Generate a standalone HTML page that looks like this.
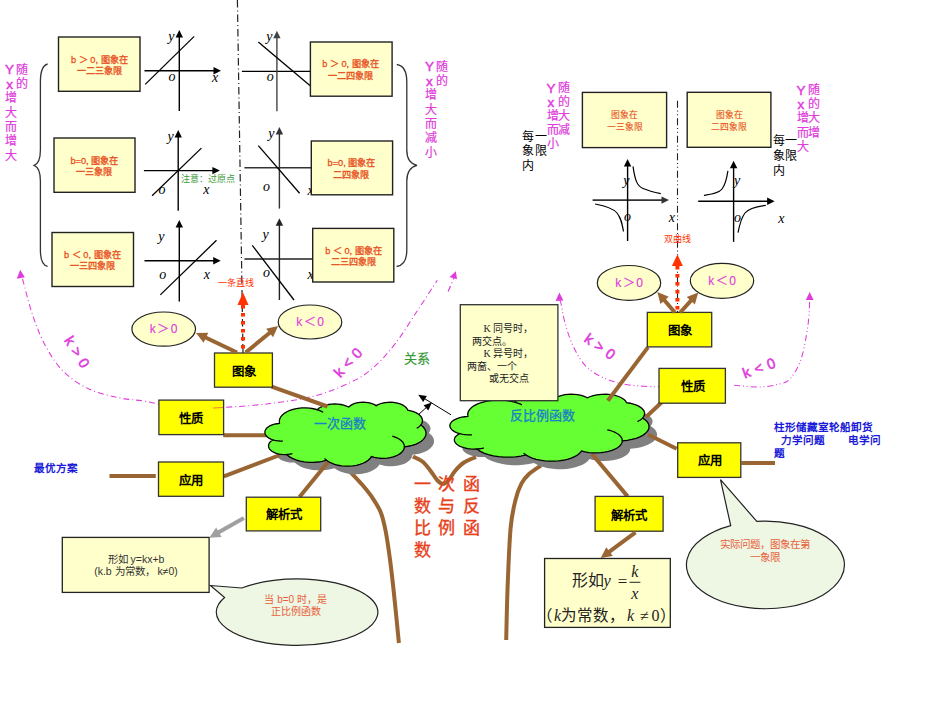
<!DOCTYPE html>
<html lang="zh-CN"><head><meta charset="utf-8"><style>
html,body{margin:0;padding:0;background:#fff;width:950px;height:713px;overflow:hidden}
svg{display:block}
</style></head><body>
<svg width="950" height="713" viewBox="0 0 950 713">
<rect width="950" height="713" fill="#fff"/>
<line x1="237.4" y1="0" x2="243" y2="353" stroke="#222" stroke-width="1.2" stroke-dasharray="7.5 3 1 3" stroke-linecap="butt"/>
<line x1="677.5" y1="100.8" x2="677.5" y2="312.5" stroke="#222" stroke-width="1.1" stroke-dasharray="7 2.7 1 2.7 1 3.1" stroke-linecap="butt"/>
<line x1="144.5" y1="70.8" x2="215" y2="70.8" stroke="#000" stroke-width="1.4" stroke-linecap="butt"/>
<polygon points="221.00,70.80 213.50,67.10 213.50,74.50" fill="#000" stroke="none" stroke-width="1"/>
<line x1="179.3" y1="111" x2="179.3" y2="35.9" stroke="#000" stroke-width="1.4" stroke-linecap="butt"/>
<polygon points="179.30,29.90 175.60,37.40 183.00,37.40" fill="#000" stroke="none" stroke-width="1"/>
<line x1="145.2" y1="84.4" x2="194.2" y2="36.4" stroke="#000" stroke-width="1.3" stroke-linecap="butt"/>
<text x="168.3" y="40.5" font-family='"Liberation Serif", serif' font-size="14" fill="#000" font-weight="normal" text-anchor="start" dominant-baseline="auto" font-style="italic">y</text>
<text x="168.5" y="80.5" font-family='"Liberation Serif", serif' font-size="14" fill="#000" font-weight="normal" text-anchor="start" dominant-baseline="auto" font-style="italic">o</text>
<text x="212" y="81.5" font-family='"Liberation Serif", serif' font-size="14" fill="#000" font-weight="normal" text-anchor="start" dominant-baseline="auto" font-style="italic">x</text>
<line x1="143.9" y1="170.6" x2="213.9" y2="170.6" stroke="#000" stroke-width="1.4" stroke-linecap="butt"/>
<polygon points="219.90,170.60 212.40,166.90 212.40,174.30" fill="#000" stroke="none" stroke-width="1"/>
<line x1="178.2" y1="210.7" x2="178.2" y2="135.9" stroke="#000" stroke-width="1.4" stroke-linecap="butt"/>
<polygon points="178.20,129.90 174.50,137.40 181.90,137.40" fill="#000" stroke="none" stroke-width="1"/>
<line x1="152.1" y1="195.8" x2="201.4" y2="148.1" stroke="#000" stroke-width="1.3" stroke-linecap="butt"/>
<text x="167.60000000000002" y="140.5" font-family='"Liberation Serif", serif' font-size="14" fill="#000" font-weight="normal" text-anchor="start" dominant-baseline="auto" font-style="italic">y</text>
<text x="158.5" y="194" font-family='"Liberation Serif", serif' font-size="14" fill="#000" font-weight="normal" text-anchor="start" dominant-baseline="auto" font-style="italic">o</text>
<text x="203.2" y="194.2" font-family='"Liberation Serif", serif' font-size="14" fill="#000" font-weight="normal" text-anchor="start" dominant-baseline="auto" font-style="italic">x</text>
<line x1="144.5" y1="260.8" x2="214.7" y2="260.8" stroke="#000" stroke-width="1.4" stroke-linecap="butt"/>
<polygon points="220.70,260.80 213.20,257.10 213.20,264.50" fill="#000" stroke="none" stroke-width="1"/>
<line x1="179.3" y1="301.6" x2="179.3" y2="226.1" stroke="#000" stroke-width="1.4" stroke-linecap="butt"/>
<polygon points="179.30,220.10 175.60,227.60 183.00,227.60" fill="#000" stroke="none" stroke-width="1"/>
<line x1="160.3" y1="294.9" x2="216.5" y2="240.3" stroke="#000" stroke-width="1.3" stroke-linecap="butt"/>
<text x="158.3" y="240.5" font-family='"Liberation Serif", serif' font-size="14" fill="#000" font-weight="normal" text-anchor="start" dominant-baseline="auto" font-style="italic">y</text>
<text x="159.2" y="278.6" font-family='"Liberation Serif", serif' font-size="14" fill="#000" font-weight="normal" text-anchor="start" dominant-baseline="auto" font-style="italic">o</text>
<text x="203.8" y="279.2" font-family='"Liberation Serif", serif' font-size="14" fill="#000" font-weight="normal" text-anchor="start" dominant-baseline="auto" font-style="italic">x</text>
<line x1="241.9" y1="71.4" x2="324" y2="71.4" stroke="#000" stroke-width="1.4" stroke-linecap="butt"/>
<polygon points="330.00,71.40 322.50,67.70 322.50,75.10" fill="#000" stroke="none" stroke-width="1"/>
<line x1="276.9" y1="111.2" x2="276.9" y2="36.7" stroke="#444" stroke-width="1.4" stroke-linecap="butt"/>
<polygon points="276.90,30.70 273.20,38.20 280.60,38.20" fill="#444" stroke="none" stroke-width="1"/>
<line x1="258.3" y1="42.1" x2="320" y2="94" stroke="#000" stroke-width="1.3" stroke-linecap="butt"/>
<text x="266.3" y="40.5" font-family='"Liberation Serif", serif' font-size="14" fill="#000" font-weight="normal" text-anchor="start" dominant-baseline="auto" font-style="italic">y</text>
<text x="266.7" y="81.1" font-family='"Liberation Serif", serif' font-size="14" fill="#000" font-weight="normal" text-anchor="start" dominant-baseline="auto" font-style="italic">o</text>
<line x1="244.4" y1="167.8" x2="324" y2="167.8" stroke="#333" stroke-width="1.4" stroke-linecap="butt"/>
<polygon points="330.00,167.80 322.50,164.10 322.50,171.50" fill="#333" stroke="none" stroke-width="1"/>
<line x1="279.4" y1="208.6" x2="279.4" y2="133" stroke="#333" stroke-width="1.4" stroke-linecap="butt"/>
<polygon points="279.40,127.00 275.70,134.50 283.10,134.50" fill="#333" stroke="none" stroke-width="1"/>
<line x1="258.3" y1="145.6" x2="299.6" y2="193.3" stroke="#000" stroke-width="1.3" stroke-linecap="butt"/>
<text x="268.2" y="137.5" font-family='"Liberation Serif", serif' font-size="14" fill="#000" font-weight="normal" text-anchor="start" dominant-baseline="auto" font-style="italic">y</text>
<text x="262.9" y="190.6" font-family='"Liberation Serif", serif' font-size="14" fill="#000" font-weight="normal" text-anchor="start" dominant-baseline="auto" font-style="italic">o</text>
<text x="307.5" y="195" font-family='"Liberation Serif", serif' font-size="14" fill="#000" font-weight="normal" text-anchor="start" dominant-baseline="auto" font-style="italic">x</text>
<line x1="244.4" y1="259" x2="324" y2="259" stroke="#222" stroke-width="1.4" stroke-linecap="butt"/>
<polygon points="330.00,259.00 322.50,255.30 322.50,262.70" fill="#222" stroke="none" stroke-width="1"/>
<line x1="279.4" y1="300" x2="279.4" y2="224.2" stroke="#222" stroke-width="1.4" stroke-linecap="butt"/>
<polygon points="279.40,218.20 275.70,225.70 283.10,225.70" fill="#222" stroke="none" stroke-width="1"/>
<line x1="252.3" y1="245.4" x2="294" y2="300" stroke="#000" stroke-width="1.3" stroke-linecap="butt"/>
<text x="262.6" y="238.8" font-family='"Liberation Serif", serif' font-size="14" fill="#000" font-weight="normal" text-anchor="start" dominant-baseline="auto" font-style="italic">y</text>
<text x="262.9" y="276.8" font-family='"Liberation Serif", serif' font-size="14" fill="#000" font-weight="normal" text-anchor="start" dominant-baseline="auto" font-style="italic">o</text>
<text x="307.5" y="279" font-family='"Liberation Serif", serif' font-size="14" fill="#000" font-weight="normal" text-anchor="start" dominant-baseline="auto" font-style="italic">x</text>
<text x="180.5" y="179" font-family='"Liberation Sans", sans-serif' font-size="9" fill="#3A9A3A" font-weight="500" text-anchor="start" dominant-baseline="central" font-style="normal">注意：过原点</text>
<rect x="58.5" y="37" width="81.5" height="54.3" fill="#FFFFCC" stroke="#222" stroke-width="1.4"/>
<text x="99.3" y="63" font-family='"Liberation Sans", sans-serif' font-size="9.2" fill="#E8501E" font-weight="500" text-anchor="middle" dominant-baseline="auto" font-style="normal" stroke="#E8501E" stroke-width="0.3">b ＞ 0, 图象在</text>
<text x="99.3" y="73.9" font-family='"Liberation Sans", sans-serif' font-size="9.2" fill="#E8501E" font-weight="500" text-anchor="middle" dominant-baseline="auto" font-style="normal" stroke="#E8501E" stroke-width="0.3">一二三象限</text>
<rect x="54" y="138" width="81" height="54.3" fill="#FFFFCC" stroke="#222" stroke-width="1.4"/>
<text x="94.3" y="163.7" font-family='"Liberation Sans", sans-serif' font-size="9.2" fill="#E8501E" font-weight="500" text-anchor="middle" dominant-baseline="auto" font-style="normal" stroke="#E8501E" stroke-width="0.3">b=0, 图象在</text>
<text x="94.3" y="174.6" font-family='"Liberation Sans", sans-serif' font-size="9.2" fill="#E8501E" font-weight="500" text-anchor="middle" dominant-baseline="auto" font-style="normal" stroke="#E8501E" stroke-width="0.3">一三象限</text>
<rect x="52" y="232.5" width="81.5" height="54" fill="#FFFFCC" stroke="#222" stroke-width="1.4"/>
<text x="92.3" y="257.9" font-family='"Liberation Sans", sans-serif' font-size="9.2" fill="#E8501E" font-weight="500" text-anchor="middle" dominant-baseline="auto" font-style="normal" stroke="#E8501E" stroke-width="0.3">b ＜ 0, 图象在</text>
<text x="92.3" y="269.3" font-family='"Liberation Sans", sans-serif' font-size="9.2" fill="#E8501E" font-weight="500" text-anchor="middle" dominant-baseline="auto" font-style="normal" stroke="#E8501E" stroke-width="0.3">一三四象限</text>
<rect x="310.4" y="42" width="81.7" height="54.2" fill="#FFFFCC" stroke="#222" stroke-width="1.4"/>
<text x="350.5" y="67.4" font-family='"Liberation Sans", sans-serif' font-size="9.2" fill="#E8501E" font-weight="500" text-anchor="middle" dominant-baseline="auto" font-style="normal" stroke="#E8501E" stroke-width="0.3">b ＞ 0, 图象在</text>
<text x="350.5" y="78.8" font-family='"Liberation Sans", sans-serif' font-size="9.2" fill="#E8501E" font-weight="500" text-anchor="middle" dominant-baseline="auto" font-style="normal" stroke="#E8501E" stroke-width="0.3">一二四象限</text>
<rect x="311.3" y="141" width="81.3" height="53.8" fill="#FFFFCC" stroke="#222" stroke-width="1.4"/>
<text x="351.4" y="166.2" font-family='"Liberation Sans", sans-serif' font-size="9.2" fill="#E8501E" font-weight="500" text-anchor="middle" dominant-baseline="auto" font-style="normal" stroke="#E8501E" stroke-width="0.3">b=0, 图象在</text>
<text x="351.4" y="177.5" font-family='"Liberation Sans", sans-serif' font-size="9.2" fill="#E8501E" font-weight="500" text-anchor="middle" dominant-baseline="auto" font-style="normal" stroke="#E8501E" stroke-width="0.3">二四象限</text>
<rect x="312.7" y="228.4" width="81.1" height="53.6" fill="#FFFFCC" stroke="#222" stroke-width="1.4"/>
<text x="353.4" y="253.6" font-family='"Liberation Sans", sans-serif' font-size="9.2" fill="#E8501E" font-weight="500" text-anchor="middle" dominant-baseline="auto" font-style="normal" stroke="#E8501E" stroke-width="0.3">b ＜ 0, 图象在</text>
<text x="353.4" y="264.9" font-family='"Liberation Sans", sans-serif' font-size="9.2" fill="#E8501E" font-weight="500" text-anchor="middle" dominant-baseline="auto" font-style="normal" stroke="#E8501E" stroke-width="0.3">二三四象限</text>
<rect x="582.4" y="92.4" width="84.2" height="55.2" fill="#FFFFCC" stroke="#222" stroke-width="1.4"/>
<text x="624.9" y="118.3" font-family='"Liberation Sans", sans-serif' font-size="8.8" fill="#E8501E" font-weight="500" text-anchor="middle" dominant-baseline="auto" font-style="normal" stroke="#E8501E" stroke-width="0.1">图象在</text>
<text x="624.9" y="129.7" font-family='"Liberation Sans", sans-serif' font-size="8.8" fill="#E8501E" font-weight="500" text-anchor="middle" dominant-baseline="auto" font-style="normal" stroke="#E8501E" stroke-width="0.1">一三象限</text>
<rect x="687.2" y="92.3" width="83.7" height="55" fill="#FFFFCC" stroke="#222" stroke-width="1.4"/>
<text x="729" y="118.3" font-family='"Liberation Sans", sans-serif' font-size="8.8" fill="#E8501E" font-weight="500" text-anchor="middle" dominant-baseline="auto" font-style="normal" stroke="#E8501E" stroke-width="0.1">图象在</text>
<text x="729" y="129.7" font-family='"Liberation Sans", sans-serif' font-size="8.8" fill="#E8501E" font-weight="500" text-anchor="middle" dominant-baseline="auto" font-style="normal" stroke="#E8501E" stroke-width="0.1">二四象限</text>
<path d="M47.6 64 Q40.4 66 40.4 82 L40.4 150 Q40.4 163 34.2 165.4 Q40.4 168 40.4 181 L40.4 250 Q40.4 265 47.6 266.3" fill="none" stroke="#333" stroke-width="1.3" />
<path d="M396.8 64.5 Q406.8 66 406.8 82 L406.8 150 Q406.8 163 417 165.4 Q406.8 168 406.8 181 L406.8 250 Q406.8 265 396.6 266.5" fill="none" stroke="#333" stroke-width="1.3" />
<text x="9.6" y="69.89999999999999" font-family='"Liberation Sans", sans-serif' font-size="13.5" fill="#E03CDC" font-weight="normal" text-anchor="middle" dominant-baseline="central" font-style="normal" stroke="#E03CDC" stroke-width="0.45">Y</text>
<text x="21.8" y="69.6" font-family='"Liberation Sans", sans-serif' font-size="12" fill="#E03CDC" font-weight="500" text-anchor="middle" dominant-baseline="central" font-style="normal" stroke="#E03CDC" stroke-width="0.2">随</text>
<text x="9.6" y="84.24999999999999" font-family='"Liberation Sans", sans-serif' font-size="13.5" fill="#E03CDC" font-weight="normal" text-anchor="middle" dominant-baseline="central" font-style="normal" stroke="#E03CDC" stroke-width="0.45">x</text>
<text x="21.8" y="83.94999999999999" font-family='"Liberation Sans", sans-serif' font-size="12" fill="#E03CDC" font-weight="500" text-anchor="middle" dominant-baseline="central" font-style="normal" stroke="#E03CDC" stroke-width="0.2">的</text>
<text x="11.2" y="98.3" font-family='"Liberation Sans", sans-serif' font-size="12" fill="#E03CDC" font-weight="500" text-anchor="middle" dominant-baseline="central" font-style="normal" stroke="#E03CDC" stroke-width="0.2">增</text>
<text x="11.2" y="112.64999999999999" font-family='"Liberation Sans", sans-serif' font-size="12" fill="#E03CDC" font-weight="500" text-anchor="middle" dominant-baseline="central" font-style="normal" stroke="#E03CDC" stroke-width="0.2">大</text>
<text x="11.2" y="127.0" font-family='"Liberation Sans", sans-serif' font-size="12" fill="#E03CDC" font-weight="500" text-anchor="middle" dominant-baseline="central" font-style="normal" stroke="#E03CDC" stroke-width="0.2">而</text>
<text x="11.2" y="141.35" font-family='"Liberation Sans", sans-serif' font-size="12" fill="#E03CDC" font-weight="500" text-anchor="middle" dominant-baseline="central" font-style="normal" stroke="#E03CDC" stroke-width="0.2">增</text>
<text x="11.2" y="155.7" font-family='"Liberation Sans", sans-serif' font-size="12" fill="#E03CDC" font-weight="500" text-anchor="middle" dominant-baseline="central" font-style="normal" stroke="#E03CDC" stroke-width="0.2">大</text>
<text x="429.4" y="66.8" font-family='"Liberation Sans", sans-serif' font-size="13.5" fill="#E03CDC" font-weight="normal" text-anchor="middle" dominant-baseline="central" font-style="normal" stroke="#E03CDC" stroke-width="0.45">Y</text>
<text x="442" y="66.5" font-family='"Liberation Sans", sans-serif' font-size="12" fill="#E03CDC" font-weight="500" text-anchor="middle" dominant-baseline="central" font-style="normal" stroke="#E03CDC" stroke-width="0.2">随</text>
<text x="429.4" y="81.14999999999999" font-family='"Liberation Sans", sans-serif' font-size="13.5" fill="#E03CDC" font-weight="normal" text-anchor="middle" dominant-baseline="central" font-style="normal" stroke="#E03CDC" stroke-width="0.45">x</text>
<text x="442" y="80.85" font-family='"Liberation Sans", sans-serif' font-size="12" fill="#E03CDC" font-weight="500" text-anchor="middle" dominant-baseline="central" font-style="normal" stroke="#E03CDC" stroke-width="0.2">的</text>
<text x="431" y="95.2" font-family='"Liberation Sans", sans-serif' font-size="12" fill="#E03CDC" font-weight="500" text-anchor="middle" dominant-baseline="central" font-style="normal" stroke="#E03CDC" stroke-width="0.2">增</text>
<text x="431" y="109.55" font-family='"Liberation Sans", sans-serif' font-size="12" fill="#E03CDC" font-weight="500" text-anchor="middle" dominant-baseline="central" font-style="normal" stroke="#E03CDC" stroke-width="0.2">大</text>
<text x="431" y="123.9" font-family='"Liberation Sans", sans-serif' font-size="12" fill="#E03CDC" font-weight="500" text-anchor="middle" dominant-baseline="central" font-style="normal" stroke="#E03CDC" stroke-width="0.2">而</text>
<text x="431" y="138.25" font-family='"Liberation Sans", sans-serif' font-size="12" fill="#E03CDC" font-weight="500" text-anchor="middle" dominant-baseline="central" font-style="normal" stroke="#E03CDC" stroke-width="0.2">减</text>
<text x="431" y="152.6" font-family='"Liberation Sans", sans-serif' font-size="12" fill="#E03CDC" font-weight="500" text-anchor="middle" dominant-baseline="central" font-style="normal" stroke="#E03CDC" stroke-width="0.2">小</text>
<text x="550.9" y="88.0" font-family='"Liberation Sans", sans-serif' font-size="13.5" fill="#E03CDC" font-weight="normal" text-anchor="middle" dominant-baseline="central" font-style="normal" stroke="#E03CDC" stroke-width="0.45">Y</text>
<text x="564.4" y="87.7" font-family='"Liberation Sans", sans-serif' font-size="12" fill="#E03CDC" font-weight="500" text-anchor="middle" dominant-baseline="central" font-style="normal" stroke="#E03CDC" stroke-width="0.2">随</text>
<text x="550.9" y="102.1" font-family='"Liberation Sans", sans-serif' font-size="13.5" fill="#E03CDC" font-weight="normal" text-anchor="middle" dominant-baseline="central" font-style="normal" stroke="#E03CDC" stroke-width="0.45">x</text>
<text x="564.4" y="101.8" font-family='"Liberation Sans", sans-serif' font-size="12" fill="#E03CDC" font-weight="500" text-anchor="middle" dominant-baseline="central" font-style="normal" stroke="#E03CDC" stroke-width="0.2">的</text>
<text x="552.5" y="115.9" font-family='"Liberation Sans", sans-serif' font-size="12" fill="#E03CDC" font-weight="500" text-anchor="middle" dominant-baseline="central" font-style="normal" stroke="#E03CDC" stroke-width="0.2">增</text>
<text x="564.4" y="115.9" font-family='"Liberation Sans", sans-serif' font-size="12" fill="#E03CDC" font-weight="500" text-anchor="middle" dominant-baseline="central" font-style="normal" stroke="#E03CDC" stroke-width="0.2">大</text>
<text x="552.5" y="130.0" font-family='"Liberation Sans", sans-serif' font-size="12" fill="#E03CDC" font-weight="500" text-anchor="middle" dominant-baseline="central" font-style="normal" stroke="#E03CDC" stroke-width="0.2">而</text>
<text x="564.4" y="130.0" font-family='"Liberation Sans", sans-serif' font-size="12" fill="#E03CDC" font-weight="500" text-anchor="middle" dominant-baseline="central" font-style="normal" stroke="#E03CDC" stroke-width="0.2">减</text>
<text x="552.5" y="144.1" font-family='"Liberation Sans", sans-serif' font-size="12" fill="#E03CDC" font-weight="500" text-anchor="middle" dominant-baseline="central" font-style="normal" stroke="#E03CDC" stroke-width="0.2">小</text>
<text x="800.9" y="90.2" font-family='"Liberation Sans", sans-serif' font-size="13.5" fill="#E03CDC" font-weight="normal" text-anchor="middle" dominant-baseline="central" font-style="normal" stroke="#E03CDC" stroke-width="0.45">Y</text>
<text x="814" y="89.9" font-family='"Liberation Sans", sans-serif' font-size="12" fill="#E03CDC" font-weight="500" text-anchor="middle" dominant-baseline="central" font-style="normal" stroke="#E03CDC" stroke-width="0.2">随</text>
<text x="800.9" y="104.4" font-family='"Liberation Sans", sans-serif' font-size="13.5" fill="#E03CDC" font-weight="normal" text-anchor="middle" dominant-baseline="central" font-style="normal" stroke="#E03CDC" stroke-width="0.45">x</text>
<text x="814" y="104.10000000000001" font-family='"Liberation Sans", sans-serif' font-size="12" fill="#E03CDC" font-weight="500" text-anchor="middle" dominant-baseline="central" font-style="normal" stroke="#E03CDC" stroke-width="0.2">的</text>
<text x="802.5" y="118.30000000000001" font-family='"Liberation Sans", sans-serif' font-size="12" fill="#E03CDC" font-weight="500" text-anchor="middle" dominant-baseline="central" font-style="normal" stroke="#E03CDC" stroke-width="0.2">增</text>
<text x="814" y="118.30000000000001" font-family='"Liberation Sans", sans-serif' font-size="12" fill="#E03CDC" font-weight="500" text-anchor="middle" dominant-baseline="central" font-style="normal" stroke="#E03CDC" stroke-width="0.2">大</text>
<text x="802.5" y="132.5" font-family='"Liberation Sans", sans-serif' font-size="12" fill="#E03CDC" font-weight="500" text-anchor="middle" dominant-baseline="central" font-style="normal" stroke="#E03CDC" stroke-width="0.2">而</text>
<text x="814" y="132.5" font-family='"Liberation Sans", sans-serif' font-size="12" fill="#E03CDC" font-weight="500" text-anchor="middle" dominant-baseline="central" font-style="normal" stroke="#E03CDC" stroke-width="0.2">增</text>
<text x="802.5" y="146.7" font-family='"Liberation Sans", sans-serif' font-size="12" fill="#E03CDC" font-weight="500" text-anchor="middle" dominant-baseline="central" font-style="normal" stroke="#E03CDC" stroke-width="0.2">大</text>
<text x="528.1" y="136.5" font-family='"Liberation Sans", sans-serif' font-size="12" fill="#000" font-weight="normal" text-anchor="middle" dominant-baseline="central" font-style="normal">每</text>
<text x="540.7" y="136.5" font-family='"Liberation Sans", sans-serif' font-size="12" fill="#000" font-weight="normal" text-anchor="middle" dominant-baseline="central" font-style="normal">一</text>
<text x="528.1" y="151.3" font-family='"Liberation Sans", sans-serif' font-size="12" fill="#000" font-weight="normal" text-anchor="middle" dominant-baseline="central" font-style="normal">象</text>
<text x="540.7" y="151.3" font-family='"Liberation Sans", sans-serif' font-size="12" fill="#000" font-weight="normal" text-anchor="middle" dominant-baseline="central" font-style="normal">限</text>
<text x="528.1" y="166.1" font-family='"Liberation Sans", sans-serif' font-size="12" fill="#000" font-weight="normal" text-anchor="middle" dominant-baseline="central" font-style="normal">内</text>
<text x="779" y="140.7" font-family='"Liberation Sans", sans-serif' font-size="12" fill="#000" font-weight="normal" text-anchor="middle" dominant-baseline="central" font-style="normal">每</text>
<text x="790.7" y="140.7" font-family='"Liberation Sans", sans-serif' font-size="12" fill="#000" font-weight="normal" text-anchor="middle" dominant-baseline="central" font-style="normal">一</text>
<text x="779" y="155.79999999999998" font-family='"Liberation Sans", sans-serif' font-size="12" fill="#000" font-weight="normal" text-anchor="middle" dominant-baseline="central" font-style="normal">象</text>
<text x="790.7" y="155.79999999999998" font-family='"Liberation Sans", sans-serif' font-size="12" fill="#000" font-weight="normal" text-anchor="middle" dominant-baseline="central" font-style="normal">限</text>
<text x="779" y="170.89999999999998" font-family='"Liberation Sans", sans-serif' font-size="12" fill="#000" font-weight="normal" text-anchor="middle" dominant-baseline="central" font-style="normal">内</text>
<line x1="592.6" y1="200.1" x2="663" y2="200.1" stroke="#333" stroke-width="1.8" stroke-linecap="butt"/>
<polygon points="669.00,200.10 661.50,196.40 661.50,203.80" fill="#333" stroke="none" stroke-width="1"/>
<line x1="627.6" y1="241" x2="627.6" y2="165.1" stroke="#000" stroke-width="1.4" stroke-linecap="butt"/>
<polygon points="627.60,159.10 623.90,166.60 631.30,166.60" fill="#000" stroke="none" stroke-width="1"/>
<path d="M633 166.4 C635 180 637 186 643 188.5 S656 192.6 660.8 193.6" fill="none" stroke="#000" stroke-width="1.2" />
<path d="M595.1 204 C606 206 613 208 617 213 S622 223 623.5 231.5" fill="none" stroke="#000" stroke-width="1.2" />
<text x="623.3" y="184.5" font-family='"Liberation Serif", serif' font-size="14" fill="#000" font-weight="normal" text-anchor="start" dominant-baseline="auto" font-style="italic">y</text>
<text x="624" y="221" font-family='"Liberation Serif", serif' font-size="14" fill="#000" font-weight="normal" text-anchor="start" dominant-baseline="auto" font-style="italic">o</text>
<text x="668.7" y="222" font-family='"Liberation Serif", serif' font-size="14" fill="#000" font-weight="normal" text-anchor="start" dominant-baseline="auto" font-style="italic">x</text>
<line x1="698.2" y1="201.2" x2="768.6" y2="201.2" stroke="#000" stroke-width="1.6" stroke-linecap="butt"/>
<polygon points="774.60,201.20 767.10,197.50 767.10,204.90" fill="#000" stroke="none" stroke-width="1"/>
<line x1="733.6" y1="241.9" x2="733.6" y2="166.7" stroke="#000" stroke-width="1.4" stroke-linecap="butt"/>
<polygon points="733.60,160.70 729.90,168.20 737.30,168.20" fill="#000" stroke="none" stroke-width="1"/>
<path d="M703.9 195.5 C712 194 719 193 722 189 S727 177 727.9 170.8" fill="none" stroke="#000" stroke-width="1.2" />
<path d="M738 232.7 C739.5 225 741 218 745 213 S756 206.5 765.8 205.3" fill="none" stroke="#000" stroke-width="1.2" />
<text x="734.0999999999999" y="185" font-family='"Liberation Serif", serif' font-size="14" fill="#000" font-weight="normal" text-anchor="start" dominant-baseline="auto" font-style="italic">y</text>
<text x="734" y="222" font-family='"Liberation Serif", serif' font-size="14" fill="#000" font-weight="normal" text-anchor="start" dominant-baseline="auto" font-style="italic">o</text>
<text x="778.3" y="222.5" font-family='"Liberation Serif", serif' font-size="14" fill="#000" font-weight="normal" text-anchor="start" dominant-baseline="auto" font-style="italic">x</text>
<text x="218" y="282.5" font-family='"Liberation Sans", sans-serif' font-size="9" fill="#FF3300" font-weight="500" text-anchor="start" dominant-baseline="central" font-style="normal">一条直线</text>
<text x="664" y="239.3" font-family='"Liberation Sans", sans-serif' font-size="9" fill="#FF3300" font-weight="500" text-anchor="start" dominant-baseline="central" font-style="normal">双曲线</text>
<path d="M22.5 279 C24.22 285.10 28.97 304.45 32.8 315.6 C36.63 326.75 40.43 336.63 45.5 345.9 C50.57 355.17 56.05 364.05 63.2 371.2 C70.35 378.35 79.15 384.38 88.4 388.8 C97.65 393.22 109.02 395.58 118.7 397.7 C128.38 399.82 135.45 399.62 146.5 401.5 C157.55 403.38 172.37 408.00 185 409 C197.63 410.00 208.13 408.40 222.3 407.5 C236.47 406.60 254.57 405.55 270 403.6 C285.43 401.65 301.43 399.35 314.9 395.8 C328.37 392.25 341.07 386.98 350.8 382.3 C360.53 377.62 365.82 374.25 373.3 367.7 C380.78 361.15 388.22 352.72 395.7 343 C403.18 333.28 411.27 319.85 418.2 309.4 C425.13 298.95 434.12 285.15 437.3 280.3" fill="none" stroke="#E03CDC" stroke-width="1.05" stroke-dasharray="6 3 1 3" />
<polygon points="20.20,269.80 16.80,278.80 24.80,277.20" fill="#E03CDC" stroke="none" stroke-width="1"/>
<line x1="448.1" y1="291.4" x2="454" y2="278" stroke="#E03CDC" stroke-width="1.2" stroke-dasharray="6 3 1 3" stroke-linecap="butt"/>
<polygon points="455.90,271.30 449.60,277.00 457.00,279.30" fill="#E03CDC" stroke="none" stroke-width="1"/>
<path d="M559.8 300 C560.00 300.60 560.10 299.65 561 303.6 C561.90 307.55 563.08 316.42 565.2 323.7 C567.32 330.98 570.05 340.00 573.7 347.3 C577.35 354.60 581.50 362.17 587.1 367.5 C592.70 372.83 600.00 376.35 607.3 379.3 C614.60 382.25 621.78 383.92 630.9 385.2 C640.02 386.48 656.82 386.70 662 387" fill="none" stroke="#E03CDC" stroke-width="1.05" stroke-dasharray="6 3 1 2.5 1 3" />
<path d="M734.2 385.3 C738.52 385.58 752.73 387.18 760.1 387 C767.47 386.82 773.48 385.48 778.4 384.2 C783.32 382.92 785.83 383.45 789.6 379.3 C793.37 375.15 797.93 368.35 801 359.3 C804.07 350.25 806.55 335.05 808 325 C809.45 314.95 809.42 303.33 809.7 299" fill="none" stroke="#E03CDC" stroke-width="1.05" stroke-dasharray="6 3 1 2.5 1 3" />
<polygon points="559.40,292.60 555.60,301.00 563.40,300.60" fill="#E03CDC" stroke="none" stroke-width="1"/>
<polygon points="809.70,292.10 805.80,300.00 813.60,300.00" fill="#E03CDC" stroke="none" stroke-width="1"/>
<text x="2.5" y="0" font-family='"Liberation Sans", sans-serif' font-size="14.5" fill="#E03CDC" font-weight="normal" text-anchor="middle" dominant-baseline="central" font-style="normal" transform="translate(77,352) rotate(58)" letter-spacing="5" stroke="#E03CDC" stroke-width="0.55">k&gt;0</text>
<text x="2.5" y="0" font-family='"Liberation Sans", sans-serif' font-size="14.5" fill="#E03CDC" font-weight="normal" text-anchor="middle" dominant-baseline="central" font-style="normal" transform="translate(348,362.5) rotate(-47)" letter-spacing="5" stroke="#E03CDC" stroke-width="0.55">k&lt;0</text>
<text x="2.5" y="0" font-family='"Liberation Sans", sans-serif' font-size="14.5" fill="#E03CDC" font-weight="normal" text-anchor="middle" dominant-baseline="central" font-style="normal" transform="translate(600,346.5) rotate(35)" letter-spacing="5" stroke="#E03CDC" stroke-width="0.55">k&gt;0</text>
<text x="2.5" y="0" font-family='"Liberation Sans", sans-serif' font-size="14.5" fill="#E03CDC" font-weight="normal" text-anchor="middle" dominant-baseline="central" font-style="normal" transform="translate(759,368) rotate(-20)" letter-spacing="5" stroke="#E03CDC" stroke-width="0.55">k&lt;0</text>
<text x="416.8" y="358.1" font-family='"Liberation Sans", sans-serif' font-size="13" fill="#3A9A3A" font-weight="500" text-anchor="middle" dominant-baseline="central" font-style="normal" stroke="#3A9A3A" stroke-width="0.25">关系</text>
<path d="M349.5 471 C351.52 473.17 357.90 479.72 361.6 484 C365.30 488.28 368.55 492.07 371.7 496.7 C374.85 501.33 378.18 506.12 380.5 511.8 C382.82 517.48 384.05 523.10 385.6 530.8 C387.15 538.50 388.43 547.80 389.8 558 C391.17 568.20 392.28 577.83 393.8 592 C395.32 606.17 398.05 634.50 398.9 643" fill="none" stroke="#996633" stroke-width="4" />
<path d="M541 465.5 C539.00 466.92 532.27 470.98 529 474 C525.73 477.02 523.65 479.27 521.4 483.6 C519.15 487.93 517.30 492.57 515.5 500 C513.70 507.43 511.92 513.70 510.6 528.2 C509.28 542.70 508.33 568.37 507.6 587 C506.87 605.63 506.43 631.17 506.2 640" fill="none" stroke="#996633" stroke-width="4" />
<path d="M287.53 431.29 L287.31 429.12 L287.73 426.96 L288.78 424.86 L290.43 422.88 L292.64 421.07 L295.36 419.47 L298.51 418.13 L302.02 417.07 L305.79 416.33 L309.74 415.92 L313.75 415.86 L317.73 416.14 L321.58 416.76 L325.20 417.71 L326.84 416.30 L328.88 415.05 L331.24 413.98 L333.88 413.12 L336.73 412.50 L339.73 412.12 L342.80 411.99 L345.87 412.12 L348.86 412.51 L351.70 413.15 L354.34 414.01 L356.69 415.08 L357.99 413.91 L359.62 412.86 L361.53 411.95 L363.67 411.22 L366.00 410.68 L368.46 410.34 L370.98 410.21 L373.51 410.29 L375.98 410.59 L378.34 411.09 L380.53 411.78 L382.49 412.65 L384.18 413.68 L386.10 412.63 L388.28 411.75 L390.68 411.05 L393.25 410.56 L395.93 410.29 L398.65 410.23 L401.36 410.39 L403.99 410.77 L406.49 411.37 L408.79 412.15 L410.85 413.11 L412.61 414.23 L414.05 415.48 L415.12 416.84 L415.81 418.26 L418.71 418.82 L421.42 419.63 L423.87 420.64 L426.00 421.86 L427.76 423.23 L429.10 424.74 L429.99 426.34 L430.42 428.00 L430.37 429.67 L429.84 431.32 L428.85 432.90 L431.05 434.74 L432.68 436.74 L433.69 438.86 L434.07 441.03 L433.81 443.22 L432.90 445.35 L431.37 447.37 L429.27 449.24 L426.64 450.90 L423.56 452.32 L420.09 453.45 L416.34 454.26 L412.40 454.75 L412.13 456.50 L411.37 458.22 L410.14 459.85 L408.46 461.37 L406.39 462.73 L403.95 463.90 L401.22 464.87 L398.25 465.60 L395.11 466.08 L391.87 466.29 L388.61 466.24 L385.40 465.93 L382.31 465.36 L379.42 464.54 L378.06 466.45 L376.18 468.24 L373.83 469.84 L371.06 471.24 L367.93 472.40 L364.52 473.29 L360.90 473.90 L357.16 474.20 L353.37 474.19 L349.63 473.88 L346.02 473.26 L342.62 472.36 L339.51 471.19 L336.75 469.79 L334.42 468.17 L330.32 469.28 L325.96 470.02 L321.43 470.37 L316.86 470.33 L312.35 469.90 L308.03 469.08 L304.00 467.91 L300.37 466.40 L297.22 464.60 L294.63 462.55 L292.16 462.60 L289.70 462.45 L287.31 462.10 L285.05 461.56 L282.96 460.84 L281.10 459.96 L279.52 458.94 L278.24 457.79 L277.29 456.56 L276.71 455.26 L276.49 453.93 L276.66 452.60 L277.19 451.29 L278.09 450.05 L279.33 448.89 L280.88 447.85 L278.79 447.06 L276.97 446.11 L275.43 445.01 L274.23 443.79 L273.40 442.49 L272.95 441.13 L272.89 439.75 L273.23 438.38 L273.96 437.06 L275.07 435.82 L276.51 434.68 L278.26 433.69 L280.28 432.85 L282.51 432.19 L284.90 431.74 L287.40 431.49 Z" fill="#808080"/>
<path d="M475.97 424.29 L475.69 422.02 L476.21 419.75 L477.50 417.56 L479.54 415.49 L482.28 413.59 L485.64 411.91 L489.53 410.51 L493.87 409.40 L498.53 408.62 L503.41 408.20 L508.37 408.13 L513.29 408.43 L518.05 409.08 L522.51 410.07 L524.55 408.59 L527.06 407.28 L529.99 406.17 L533.25 405.27 L536.77 404.61 L540.48 404.22 L544.27 404.08 L548.06 404.22 L551.76 404.63 L555.28 405.29 L558.53 406.20 L561.44 407.32 L563.06 406.09 L565.07 404.99 L567.42 404.04 L570.07 403.28 L572.95 402.71 L575.99 402.36 L579.11 402.22 L582.23 402.31 L585.29 402.62 L588.21 403.14 L590.91 403.87 L593.34 404.78 L595.42 405.85 L597.79 404.75 L600.49 403.83 L603.46 403.10 L606.63 402.59 L609.94 402.30 L613.31 402.24 L616.65 402.41 L619.91 402.81 L622.99 403.43 L625.84 404.25 L628.38 405.26 L630.57 406.43 L632.34 407.74 L633.67 409.16 L634.51 410.65 L638.10 411.24 L641.45 412.08 L644.48 413.14 L647.11 414.41 L649.28 415.85 L650.94 417.43 L652.05 419.11 L652.58 420.84 L652.51 422.59 L651.86 424.32 L650.64 425.98 L653.35 427.90 L655.37 429.99 L656.62 432.21 L657.09 434.49 L656.76 436.77 L655.64 439.01 L653.75 441.13 L651.15 443.08 L647.90 444.82 L644.09 446.30 L639.81 447.48 L635.18 448.34 L630.30 448.84 L629.96 450.68 L629.02 452.48 L627.50 454.19 L625.44 455.77 L622.87 457.20 L619.86 458.43 L616.49 459.44 L612.81 460.20 L608.93 460.70 L604.93 460.93 L600.90 460.88 L596.93 460.55 L593.12 459.95 L589.54 459.09 L587.85 461.10 L585.53 462.97 L582.62 464.65 L579.20 466.11 L575.34 467.33 L571.12 468.26 L566.65 468.89 L562.02 469.21 L557.34 469.20 L552.72 468.87 L548.26 468.23 L544.05 467.29 L540.21 466.06 L536.80 464.59 L533.92 462.90 L528.85 464.05 L523.46 464.83 L517.86 465.20 L512.21 465.16 L506.64 464.71 L501.30 463.85 L496.32 462.62 L491.82 461.04 L487.93 459.16 L484.74 457.01 L481.68 457.07 L478.64 456.91 L475.69 456.55 L472.89 455.98 L470.31 455.23 L468.02 454.30 L466.05 453.23 L464.47 452.03 L463.30 450.74 L462.58 449.38 L462.32 447.99 L462.52 446.59 L463.18 445.23 L464.29 443.93 L465.82 442.71 L467.74 441.62 L465.16 440.80 L462.90 439.80 L461.01 438.65 L459.52 437.37 L458.49 436.01 L457.94 434.59 L457.87 433.14 L458.29 431.71 L459.19 430.33 L460.55 429.03 L462.34 427.84 L464.50 426.80 L467.00 425.92 L469.76 425.23 L472.71 424.76 L475.80 424.50 Z" fill="#808080"/>
<path d="M413 456.5 C414.67 457.42 420.00 459.50 423 462 C426.00 464.50 428.58 468.42 431 471.5 C433.42 474.58 435.50 478.42 437.5 480.5 C439.50 482.58 441.17 484.00 443 484 C444.83 484.00 446.50 482.67 448.5 480.5 C450.50 478.33 452.42 474.00 455 471 C457.58 468.00 460.50 464.83 464 462.5 C467.50 460.17 474.00 457.92 476 457" fill="none" stroke="#996633" stroke-width="4" />
<line x1="223.2" y1="435.3" x2="270" y2="435.3" stroke="#996633" stroke-width="4" stroke-linecap="butt"/>
<line x1="223.8" y1="476.3" x2="280" y2="455" stroke="#996633" stroke-width="4" stroke-linecap="butt"/>
<line x1="109.5" y1="476" x2="155.8" y2="476" stroke="#996633" stroke-width="4" stroke-linecap="butt"/>
<line x1="299.5" y1="497" x2="328" y2="462" stroke="#996633" stroke-width="4" stroke-linecap="butt"/>
<line x1="662.6" y1="401.5" x2="646" y2="417" stroke="#996633" stroke-width="4" stroke-linecap="butt"/>
<line x1="648" y1="434.5" x2="676.6" y2="448.7" stroke="#996633" stroke-width="4" stroke-linecap="butt"/>
<line x1="741.3" y1="463" x2="775" y2="463" stroke="#996633" stroke-width="4" stroke-linecap="butt"/>
<line x1="592" y1="454" x2="627.6" y2="496.4" stroke="#996633" stroke-width="4" stroke-linecap="butt"/>
<path d="M279.53 423.29 L279.31 421.12 L279.73 418.96 L280.78 416.86 L282.43 414.88 L284.64 413.07 L287.36 411.47 L290.51 410.13 L294.02 409.07 L297.79 408.33 L301.74 407.92 L305.75 407.86 L309.73 408.14 L313.58 408.76 L317.20 409.71 L318.84 408.30 L320.88 407.05 L323.24 405.98 L325.88 405.12 L328.73 404.50 L331.73 404.12 L334.80 403.99 L337.87 404.12 L340.86 404.51 L343.70 405.15 L346.34 406.01 L348.69 407.08 L349.99 405.91 L351.62 404.86 L353.53 403.95 L355.67 403.22 L358.00 402.68 L360.46 402.34 L362.98 402.21 L365.51 402.29 L367.98 402.59 L370.34 403.09 L372.53 403.78 L374.49 404.65 L376.18 405.68 L378.10 404.63 L380.28 403.75 L382.68 403.05 L385.25 402.56 L387.93 402.29 L390.65 402.23 L393.36 402.39 L395.99 402.77 L398.49 403.37 L400.79 404.15 L402.85 405.11 L404.61 406.23 L406.05 407.48 L407.12 408.84 L407.81 410.26 L410.71 410.82 L413.42 411.63 L415.87 412.64 L418.00 413.86 L419.76 415.23 L421.10 416.74 L421.99 418.34 L422.42 420.00 L422.37 421.67 L421.84 423.32 L420.85 424.90 L423.05 426.74 L424.68 428.74 L425.69 430.86 L426.07 433.03 L425.81 435.22 L424.90 437.35 L423.37 439.37 L421.27 441.24 L418.64 442.90 L415.56 444.32 L412.09 445.45 L408.34 446.26 L404.40 446.75 L404.13 448.50 L403.37 450.22 L402.14 451.85 L400.46 453.37 L398.39 454.73 L395.95 455.90 L393.22 456.87 L390.25 457.60 L387.11 458.08 L383.87 458.29 L380.61 458.24 L377.40 457.93 L374.31 457.36 L371.42 456.54 L370.06 458.45 L368.18 460.24 L365.83 461.84 L363.06 463.24 L359.93 464.40 L356.52 465.29 L352.90 465.90 L349.16 466.20 L345.37 466.19 L341.63 465.88 L338.02 465.26 L334.62 464.36 L331.51 463.19 L328.75 461.79 L326.42 460.17 L322.32 461.28 L317.96 462.02 L313.43 462.37 L308.86 462.33 L304.35 461.90 L300.03 461.08 L296.00 459.91 L292.37 458.40 L289.22 456.60 L286.63 454.55 L284.16 454.60 L281.70 454.45 L279.31 454.10 L277.05 453.56 L274.96 452.84 L273.10 451.96 L271.52 450.94 L270.24 449.79 L269.29 448.56 L268.71 447.26 L268.49 445.93 L268.66 444.60 L269.19 443.29 L270.09 442.05 L271.33 440.89 L272.88 439.85 L270.79 439.06 L268.97 438.11 L267.43 437.01 L266.23 435.79 L265.40 434.49 L264.95 433.13 L264.89 431.75 L265.23 430.38 L265.96 429.06 L267.07 427.82 L268.51 426.68 L270.26 425.69 L272.28 424.85 L274.51 424.19 L276.90 423.74 L279.40 423.49 Z" fill="#66FF33" stroke="#000" stroke-width="1.3"/>
<path d="M272.88 439.85 L273.78 440.12 L274.71 440.35 L275.67 440.55 L276.65 440.72 L277.64 440.86 L278.65 440.96 L279.68 441.02 L280.70 441.05 L281.73 441.05 L282.75 441.01 M286.63 454.55 L287.23 454.50 L287.83 454.45 L288.42 454.38 L289.00 454.30 L289.58 454.21 L290.16 454.11 L290.72 453.99 L291.28 453.87 L291.83 453.73 L292.37 453.58 M420.85 424.90 L420.54 425.28 L420.20 425.64 L419.84 426.00 L419.45 426.35 L419.04 426.70 L418.61 427.03 L418.15 427.36 L417.67 427.67 L417.16 427.98 L416.64 428.28 M404.40 446.75 L404.28 445.44 L403.90 444.14 L403.24 442.88 L402.33 441.67 L401.17 440.52 L399.78 439.44 L398.18 438.46 L396.38 437.58 L394.41 436.82 L392.29 436.18 M326.42 460.17 L326.21 459.99 L326.00 459.82 L325.80 459.64 L325.60 459.46 L325.41 459.28 L325.23 459.10 L325.05 458.91 L324.87 458.73 L324.70 458.54 L324.53 458.35 M317.20 409.71 L317.86 409.92 L318.51 410.15 L319.14 410.39 L319.77 410.64 L320.37 410.90 L320.97 411.17 L321.54 411.45 L322.10 411.74 L322.65 412.04 L323.18 412.34 " fill="none" stroke="#000" stroke-width="1.3"/>
<text x="340" y="423.2" font-family='"Liberation Sans", sans-serif' font-size="13" fill="#1A80C8" font-weight="500" text-anchor="middle" dominant-baseline="central" font-style="normal" stroke="#1A80C8" stroke-width="0.3">一次函数</text>
<path d="M467.97 416.29 L467.69 414.02 L468.21 411.75 L469.50 409.56 L471.54 407.49 L474.28 405.59 L477.64 403.91 L481.53 402.51 L485.87 401.40 L490.53 400.62 L495.41 400.20 L500.37 400.13 L505.29 400.43 L510.05 401.08 L514.51 402.07 L516.55 400.59 L519.06 399.28 L521.99 398.17 L525.25 397.27 L528.77 396.61 L532.48 396.22 L536.27 396.08 L540.06 396.22 L543.76 396.63 L547.28 397.29 L550.53 398.20 L553.44 399.32 L555.06 398.09 L557.07 396.99 L559.42 396.04 L562.07 395.28 L564.95 394.71 L567.99 394.36 L571.11 394.22 L574.23 394.31 L577.29 394.62 L580.21 395.14 L582.91 395.87 L585.34 396.78 L587.42 397.85 L589.79 396.75 L592.49 395.83 L595.46 395.10 L598.63 394.59 L601.94 394.30 L605.31 394.24 L608.65 394.41 L611.91 394.81 L614.99 395.43 L617.84 396.25 L620.38 397.26 L622.57 398.43 L624.34 399.74 L625.67 401.16 L626.51 402.65 L630.10 403.24 L633.45 404.08 L636.48 405.14 L639.11 406.41 L641.28 407.85 L642.94 409.43 L644.05 411.11 L644.58 412.84 L644.51 414.59 L643.86 416.32 L642.64 417.98 L645.35 419.90 L647.37 421.99 L648.62 424.21 L649.09 426.49 L648.76 428.77 L647.64 431.01 L645.75 433.13 L643.15 435.08 L639.90 436.82 L636.09 438.30 L631.81 439.48 L627.18 440.34 L622.30 440.84 L621.96 442.68 L621.02 444.48 L619.50 446.19 L617.44 447.77 L614.87 449.20 L611.86 450.43 L608.49 451.44 L604.81 452.20 L600.93 452.70 L596.93 452.93 L592.90 452.88 L588.93 452.55 L585.12 451.95 L581.54 451.09 L579.85 453.10 L577.53 454.97 L574.62 456.65 L571.20 458.11 L567.34 459.33 L563.12 460.26 L558.65 460.89 L554.02 461.21 L549.34 461.20 L544.72 460.87 L540.26 460.23 L536.05 459.29 L532.21 458.06 L528.80 456.59 L525.92 454.90 L520.85 456.05 L515.46 456.83 L509.86 457.20 L504.21 457.16 L498.64 456.71 L493.30 455.85 L488.32 454.62 L483.82 453.04 L479.93 451.16 L476.74 449.01 L473.68 449.07 L470.64 448.91 L467.69 448.55 L464.89 447.98 L462.31 447.23 L460.02 446.30 L458.05 445.23 L456.47 444.03 L455.30 442.74 L454.58 441.38 L454.32 439.99 L454.52 438.59 L455.18 437.23 L456.29 435.93 L457.82 434.71 L459.74 433.62 L457.16 432.80 L454.90 431.80 L453.01 430.65 L451.52 429.37 L450.49 428.01 L449.94 426.59 L449.87 425.14 L450.29 423.71 L451.19 422.33 L452.55 421.03 L454.34 419.84 L456.50 418.80 L459.00 417.92 L461.76 417.23 L464.71 416.76 L467.80 416.50 Z" fill="#66FF33" stroke="#000" stroke-width="1.3"/>
<path d="M459.74 433.62 L460.85 433.90 L462.00 434.15 L463.19 434.36 L464.40 434.54 L465.63 434.68 L466.88 434.79 L468.14 434.85 L469.41 434.89 L470.68 434.88 L471.94 434.84 M476.74 449.01 L477.48 448.97 L478.22 448.91 L478.95 448.84 L479.67 448.75 L480.39 448.66 L481.10 448.55 L481.80 448.43 L482.48 448.30 L483.16 448.15 L483.83 448.00 M642.64 417.98 L642.25 418.37 L641.83 418.75 L641.39 419.13 L640.91 419.50 L640.40 419.86 L639.86 420.21 L639.29 420.55 L638.70 420.88 L638.08 421.20 L637.43 421.51 M622.30 440.84 L622.16 439.47 L621.68 438.12 L620.87 436.80 L619.74 435.53 L618.31 434.32 L616.59 433.20 L614.61 432.17 L612.39 431.25 L609.95 430.45 L607.34 429.78 M525.92 454.90 L525.66 454.71 L525.40 454.53 L525.15 454.34 L524.91 454.15 L524.67 453.96 L524.44 453.77 L524.22 453.58 L524.00 453.39 L523.79 453.19 L523.59 452.99 M514.51 402.07 L515.33 402.30 L516.14 402.53 L516.92 402.78 L517.69 403.05 L518.44 403.32 L519.18 403.60 L519.89 403.89 L520.58 404.20 L521.25 404.51 L521.91 404.83 " fill="none" stroke="#000" stroke-width="1.3"/>
<text x="542.7" y="415.1" font-family='"Liberation Sans", sans-serif' font-size="13" fill="#1A80C8" font-weight="500" text-anchor="middle" dominant-baseline="central" font-style="normal" stroke="#1A80C8" stroke-width="0.3">反比例函数</text>
<line x1="271.6" y1="386.7" x2="327.5" y2="406.5" stroke="#996633" stroke-width="4" stroke-linecap="butt"/>
<line x1="647.9" y1="347.4" x2="607.8" y2="400.7" stroke="#996633" stroke-width="4" stroke-linecap="butt"/>
<rect x="460.3" y="304.7" width="97.6" height="96" fill="#FFFFCC" stroke="#333" stroke-width="1.3"/>
<text x="483.5" y="332" font-family='"Liberation Serif", serif' font-size="10" fill="#222" font-weight="normal" text-anchor="start" dominant-baseline="auto" font-style="normal">K 同号时，</text>
<text x="472.4" y="344.5" font-family='"Liberation Serif", serif' font-size="10" fill="#222" font-weight="normal" text-anchor="start" dominant-baseline="auto" font-style="normal">两交点。</text>
<text x="483.5" y="357" font-family='"Liberation Serif", serif' font-size="10" fill="#222" font-weight="normal" text-anchor="start" dominant-baseline="auto" font-style="normal">K 异号时，</text>
<text x="467.2" y="369.5" font-family='"Liberation Serif", serif' font-size="10" fill="#222" font-weight="normal" text-anchor="start" dominant-baseline="auto" font-style="normal">两奤、一个</text>
<text x="488.6" y="382" font-family='"Liberation Serif", serif' font-size="10" fill="#222" font-weight="normal" text-anchor="start" dominant-baseline="auto" font-style="normal">或无交点</text>
<polygon points="418.20,394.80 426.85,395.98 423.21,401.95" fill="#000" stroke="none" stroke-width="1"/>
<line x1="451" y1="414.8" x2="423.6642955250818" y2="398.1318875152938" stroke="#000" stroke-width="1" stroke-linecap="butt"/>
<polygon points="431.90,402.50 428.29,410.45 423.61,405.24" fill="#000" stroke="none" stroke-width="1"/>
<line x1="418.2" y1="414.8" x2="427.1377356024198" y2="406.7756096416231" stroke="#000" stroke-width="1" stroke-linecap="butt"/>
<rect x="214.5" y="353" width="57.9" height="34.2" fill="#FFFF00" stroke="#333" stroke-width="1.3"/>
<text x="243.9" y="371.7" font-family='"Liberation Sans", sans-serif' font-size="12.4" fill="#000" font-weight="bold" text-anchor="middle" dominant-baseline="central" font-style="normal">图象</text>
<rect x="158.9" y="400.1" width="64.7" height="34.5" fill="#FFFF00" stroke="#333" stroke-width="1.3"/>
<text x="191.4" y="419.09999999999997" font-family='"Liberation Sans", sans-serif' font-size="12.4" fill="#000" font-weight="bold" text-anchor="middle" dominant-baseline="central" font-style="normal">性质</text>
<rect x="158.5" y="462" width="65" height="34.3" fill="#FFFF00" stroke="#333" stroke-width="1.3"/>
<text x="191.0" y="480.8" font-family='"Liberation Sans", sans-serif' font-size="12.4" fill="#000" font-weight="bold" text-anchor="middle" dominant-baseline="central" font-style="normal">应用</text>
<rect x="246.3" y="497.2" width="74.4" height="33.7" fill="#FFFF00" stroke="#333" stroke-width="1.3"/>
<text x="283.8" y="514.8000000000001" font-family='"Liberation Sans", sans-serif' font-size="12.4" fill="#000" font-weight="bold" text-anchor="middle" dominant-baseline="central" font-style="normal">解析式</text>
<rect x="647.3" y="312.4" width="64.4" height="34.5" fill="#FFFF00" stroke="#333" stroke-width="1.3"/>
<text x="680.0" y="331.2" font-family='"Liberation Sans", sans-serif' font-size="12.4" fill="#000" font-weight="bold" text-anchor="middle" dominant-baseline="central" font-style="normal">图象</text>
<rect x="659" y="368.4" width="66.4" height="34.8" fill="#FFFF00" stroke="#333" stroke-width="1.3"/>
<text x="692.6" y="387.0" font-family='"Liberation Sans", sans-serif' font-size="12.4" fill="#000" font-weight="bold" text-anchor="middle" dominant-baseline="central" font-style="normal">性质</text>
<rect x="677.7" y="442.8" width="63.1" height="34.6" fill="#FFFF00" stroke="#333" stroke-width="1.3"/>
<text x="709.8" y="461.2" font-family='"Liberation Sans", sans-serif' font-size="12.4" fill="#000" font-weight="bold" text-anchor="middle" dominant-baseline="central" font-style="normal">应用</text>
<rect x="595.1" y="496.4" width="68" height="34.8" fill="#FFFF00" stroke="#333" stroke-width="1.3"/>
<text x="629.2" y="515.5" font-family='"Liberation Sans", sans-serif' font-size="12.4" fill="#000" font-weight="bold" text-anchor="middle" dominant-baseline="central" font-style="normal">解析式</text>
<line x1="213" y1="408" x2="223" y2="407.5" stroke="#F08040" stroke-width="1.2" stroke-linecap="butt"/>
<ellipse cx="163.7" cy="329.1" rx="31.8" ry="17.1" fill="#FFFFCC" stroke="#222" stroke-width="1.2"/>
<text x="164.45" y="329.1" font-family='"Liberation Sans", sans-serif' font-size="12" fill="#E03CDC" font-weight="normal" text-anchor="middle" dominant-baseline="central" font-style="normal" letter-spacing="1.5" stroke="#E03CDC" stroke-width="0.15">k＞0</text>
<ellipse cx="310" cy="322" rx="31.8" ry="17" fill="#FFFFCC" stroke="#222" stroke-width="1.2"/>
<text x="310.75" y="322" font-family='"Liberation Sans", sans-serif' font-size="12" fill="#E03CDC" font-weight="normal" text-anchor="middle" dominant-baseline="central" font-style="normal" letter-spacing="1.5" stroke="#E03CDC" stroke-width="0.15">k＜0</text>
<ellipse cx="629" cy="282.9" rx="31.7" ry="17.4" fill="#FFFFCC" stroke="#222" stroke-width="1.2"/>
<text x="629.75" y="282.9" font-family='"Liberation Sans", sans-serif' font-size="12" fill="#E03CDC" font-weight="normal" text-anchor="middle" dominant-baseline="central" font-style="normal" letter-spacing="1.5" stroke="#E03CDC" stroke-width="0.15">k＞0</text>
<ellipse cx="722" cy="280.8" rx="31.7" ry="17.5" fill="#FFFFCC" stroke="#222" stroke-width="1.2"/>
<text x="722.75" y="280.8" font-family='"Liberation Sans", sans-serif' font-size="12" fill="#E03CDC" font-weight="normal" text-anchor="middle" dominant-baseline="central" font-style="normal" letter-spacing="1.5" stroke="#E03CDC" stroke-width="0.15">k＜0</text>
<polygon points="196.00,333.00 208.30,332.76 203.57,342.69" fill="#996633" stroke="none" stroke-width="1"/>
<line x1="237" y1="352.5" x2="203.94696306476246" y2="336.779653164948" stroke="#996633" stroke-width="4" stroke-linecap="butt"/>
<polygon points="278.10,325.90 273.09,337.13 266.11,328.63" fill="#996633" stroke="none" stroke-width="1"/>
<line x1="245.7" y1="352.5" x2="271.29853830542953" y2="331.48391608257947" stroke="#996633" stroke-width="4" stroke-linecap="butt"/>
<polygon points="657.40,292.00 668.72,296.80 660.36,303.94" fill="#996633" stroke="none" stroke-width="1"/>
<line x1="674.9" y1="312.5" x2="663.1135089433704" y2="298.69296761937676" stroke="#996633" stroke-width="4" stroke-linecap="butt"/>
<polygon points="698.20,292.60 694.90,304.45 686.74,297.07" fill="#996633" stroke="none" stroke-width="1"/>
<line x1="680.2" y1="312.5" x2="692.2968215335532" y2="299.1262917490163" stroke="#996633" stroke-width="4" stroke-linecap="butt"/>
<polygon points="600.70,558.10 606.26,547.13 612.81,555.97" fill="#996633" stroke="none" stroke-width="1"/>
<line x1="635.5" y1="532.3" x2="607.7691435902219" y2="552.8590832003528" stroke="#996633" stroke-width="4" stroke-linecap="butt"/>
<line x1="243" y1="305" x2="243" y2="353" stroke="#FF3300" stroke-width="4" stroke-dasharray="3.5 4.5" stroke-linecap="butt"/>
<polygon points="243.00,292.50 237.50,305.00 248.50,305.00" fill="#FF3300" stroke="none" stroke-width="1"/>
<line x1="677.4" y1="266" x2="677.4" y2="312.5" stroke="#FF3300" stroke-width="4" stroke-dasharray="3.5 4.5" stroke-linecap="butt"/>
<polygon points="677.40,254.60 671.90,266.00 682.90,266.00" fill="#FF3300" stroke="none" stroke-width="1"/>
<polygon points="209.30,537.70 216.16,527.49 221.58,537.06" fill="#A0A0A0" stroke="none" stroke-width="1"/>
<line x1="243.9" y1="518.1" x2="216.95682795895524" y2="533.3626061272971" stroke="#A0A0A0" stroke-width="4" stroke-linecap="butt"/>
<rect x="62.3" y="537.4" width="146.8" height="55" fill="#FFFFCC" stroke="#222" stroke-width="1.3"/>
<text x="136" y="563.2" font-family='"Liberation Sans", sans-serif' font-size="10.5" fill="#333" font-weight="normal" text-anchor="middle" dominant-baseline="auto" font-style="normal">形如 y=kx+b</text>
<text x="136" y="575.3" font-family='"Liberation Sans", sans-serif' font-size="10.5" fill="#333" font-weight="normal" text-anchor="middle" dominant-baseline="auto" font-style="normal">(k.b 为常数， k≠0)</text>
<path d="M210.4 585.5 L241.7 588 A80.8 33.2 0 1 1 224.6 597.5 Z" fill="#EEF6E4" stroke="#222" stroke-width="1.2"/>
<text x="295.7" y="602.6" font-family='"Liberation Sans", sans-serif' font-size="10" fill="#E8603A" font-weight="normal" text-anchor="middle" dominant-baseline="auto" font-style="normal">当 b=0 时，是</text>
<text x="295.7" y="614.9" font-family='"Liberation Serif", serif' font-size="10" fill="#E8603A" font-weight="normal" text-anchor="middle" dominant-baseline="auto" font-style="normal">正比例函数</text>
<rect x="544.6" y="558.5" width="125.7" height="68.9" fill="#FFFFCC" stroke="#222" stroke-width="1.3"/>
<text x="572" y="586" font-family='"Liberation Serif", serif' font-size="16" fill="#222" font-weight="normal" text-anchor="start" dominant-baseline="auto" font-style="normal">形如</text>
<text x="603.5" y="586" font-family='"Liberation Serif", serif' font-size="16.5" fill="#222" font-weight="normal" text-anchor="start" dominant-baseline="auto" font-style="italic">y</text>
<text x="617.8" y="586.5" font-family='"Liberation Serif", serif' font-size="17" fill="#222" font-weight="normal" text-anchor="start" dominant-baseline="auto" font-style="normal">=</text>
<text x="634.7" y="576.5" font-family='"Liberation Serif", serif' font-size="16" fill="#222" font-weight="normal" text-anchor="middle" dominant-baseline="auto" font-style="italic">k</text>
<line x1="629.5" y1="582.3" x2="640.4" y2="582.3" stroke="#222" stroke-width="1" stroke-linecap="butt"/>
<text x="634.7" y="599" font-family='"Liberation Serif", serif' font-size="16" fill="#222" font-weight="normal" text-anchor="middle" dominant-baseline="auto" font-style="italic">x</text>
<text x="536.7" y="620.5" font-family='"Liberation Serif", serif' font-size="15.5" fill="#222" font-weight="normal" text-anchor="start" dominant-baseline="auto" font-style="normal">（</text>
<text x="554" y="620.5" font-family='"Liberation Serif", serif' font-size="16" fill="#222" font-weight="normal" text-anchor="start" dominant-baseline="auto" font-style="italic">k</text>
<text x="561" y="620.5" font-family='"Liberation Serif", serif' font-size="15.5" fill="#222" font-weight="normal" text-anchor="start" dominant-baseline="auto" font-style="normal">为常数，</text>
<text x="627" y="620.5" font-family='"Liberation Serif", serif' font-size="16" fill="#222" font-weight="normal" text-anchor="start" dominant-baseline="auto" font-style="italic">k</text>
<text x="640" y="620.5" font-family='"Liberation Serif", serif' font-size="16" fill="#222" font-weight="normal" text-anchor="start" dominant-baseline="auto" font-style="normal">≠</text>
<text x="651.5" y="620.5" font-family='"Liberation Serif", serif' font-size="16" fill="#222" font-weight="normal" text-anchor="start" dominant-baseline="auto" font-style="normal">0</text>
<text x="660" y="620.5" font-family='"Liberation Serif", serif' font-size="15.5" fill="#222" font-weight="normal" text-anchor="start" dominant-baseline="auto" font-style="normal">）</text>
<path d="M720.5 479.7 L756.8 521.4 A79 43.8 0 1 1 730.7 525.6 Z" fill="#EEF6E4" stroke="#222" stroke-width="1.2"/>
<text x="764.6" y="544.5" font-family='"Liberation Serif", serif' font-size="10.5" fill="#E8603A" font-weight="normal" text-anchor="middle" dominant-baseline="central" font-style="normal">实际问题，图象在第</text>
<text x="765" y="557.5" font-family='"Liberation Serif", serif' font-size="10.5" fill="#E8603A" font-weight="normal" text-anchor="middle" dominant-baseline="central" font-style="normal">一象限</text>
<text x="33.8" y="468" font-family='"Liberation Sans", sans-serif' font-size="10.6" fill="#1A1AD8" font-weight="bold" text-anchor="start" dominant-baseline="central" font-style="normal">最优方案</text>
<text x="773.6" y="427.2" font-family='"Liberation Sans", sans-serif' font-size="10.6" fill="#1A1AD8" font-weight="bold" text-anchor="start" dominant-baseline="central" font-style="normal">柱形储藏室轮船卸货</text>
<text x="780.7" y="440.3" font-family='"Liberation Sans", sans-serif' font-size="10.6" fill="#1A1AD8" font-weight="bold" text-anchor="start" dominant-baseline="central" font-style="normal">力学问题</text>
<text x="848" y="440.3" font-family='"Liberation Sans", sans-serif' font-size="10.6" fill="#1A1AD8" font-weight="bold" text-anchor="start" dominant-baseline="central" font-style="normal">电学问</text>
<text x="773.6" y="453" font-family='"Liberation Sans", sans-serif' font-size="10.6" fill="#1A1AD8" font-weight="bold" text-anchor="start" dominant-baseline="central" font-style="normal">题</text>
<text x="422.3" y="484.1" font-family='"Liberation Sans", sans-serif' font-size="17" fill="#E8401A" font-weight="500" text-anchor="middle" dominant-baseline="central" font-style="normal" stroke="#E8401A" stroke-width="0.35">一</text>
<text x="422.3" y="506.17" font-family='"Liberation Sans", sans-serif' font-size="17" fill="#E8401A" font-weight="500" text-anchor="middle" dominant-baseline="central" font-style="normal" stroke="#E8401A" stroke-width="0.35">数</text>
<text x="422.3" y="528.24" font-family='"Liberation Sans", sans-serif' font-size="17" fill="#E8401A" font-weight="500" text-anchor="middle" dominant-baseline="central" font-style="normal" stroke="#E8401A" stroke-width="0.35">比</text>
<text x="422.3" y="550.3100000000001" font-family='"Liberation Sans", sans-serif' font-size="17" fill="#E8401A" font-weight="500" text-anchor="middle" dominant-baseline="central" font-style="normal" stroke="#E8401A" stroke-width="0.35">数</text>
<text x="446.8" y="484.1" font-family='"Liberation Sans", sans-serif' font-size="17" fill="#E8401A" font-weight="500" text-anchor="middle" dominant-baseline="central" font-style="normal" stroke="#E8401A" stroke-width="0.35">次</text>
<text x="446.8" y="506.17" font-family='"Liberation Sans", sans-serif' font-size="17" fill="#E8401A" font-weight="500" text-anchor="middle" dominant-baseline="central" font-style="normal" stroke="#E8401A" stroke-width="0.35">与</text>
<text x="446.8" y="528.24" font-family='"Liberation Sans", sans-serif' font-size="17" fill="#E8401A" font-weight="500" text-anchor="middle" dominant-baseline="central" font-style="normal" stroke="#E8401A" stroke-width="0.35">例</text>
<text x="471" y="484.1" font-family='"Liberation Sans", sans-serif' font-size="17" fill="#E8401A" font-weight="500" text-anchor="middle" dominant-baseline="central" font-style="normal" stroke="#E8401A" stroke-width="0.35">函</text>
<text x="471" y="506.17" font-family='"Liberation Sans", sans-serif' font-size="17" fill="#E8401A" font-weight="500" text-anchor="middle" dominant-baseline="central" font-style="normal" stroke="#E8401A" stroke-width="0.35">反</text>
<text x="471" y="528.24" font-family='"Liberation Sans", sans-serif' font-size="17" fill="#E8401A" font-weight="500" text-anchor="middle" dominant-baseline="central" font-style="normal" stroke="#E8401A" stroke-width="0.35">函</text>
</svg></body></html>
